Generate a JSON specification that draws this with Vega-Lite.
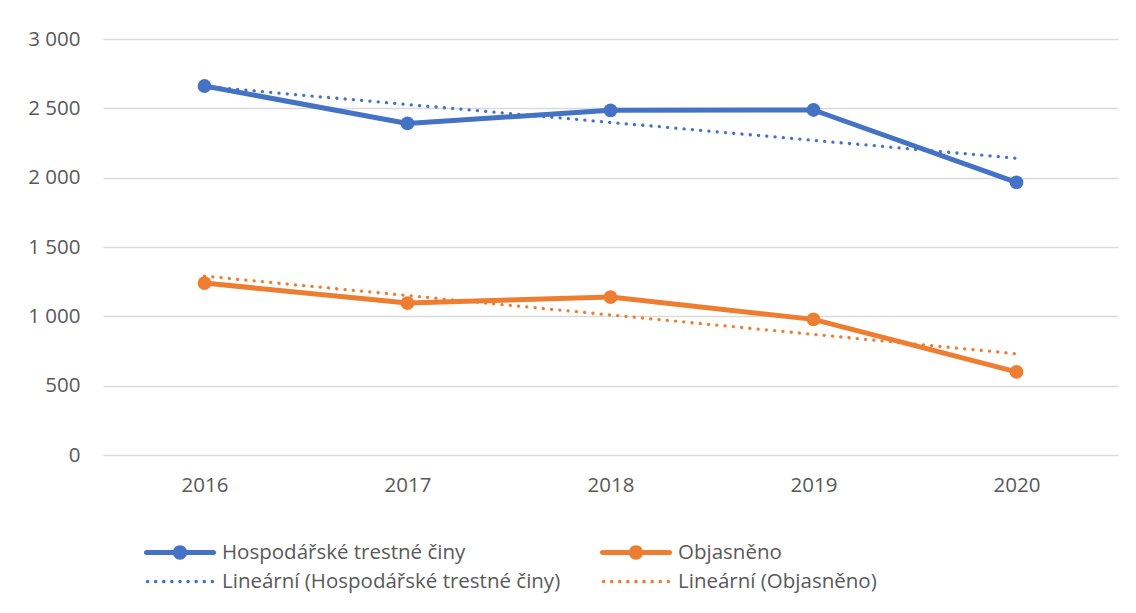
{
  "$schema": "https://vega.github.io/schema/vega-lite/v6.json",
  "width": 1015,
  "height": 416,
  "autosize": {"type": "none"},
  "padding": {"left": 103, "top": 39, "right": 18, "bottom": 158},
  "background": "white",
  "config": {"view": {"stroke": null}, "font": "Open Sans"},
  "data": {
    "values": [
      {"year": "2016", "value": 2661, "series": "Hospodářské trestné činy"},
      {"year": "2017", "value": 2391, "series": "Hospodářské trestné činy"},
      {"year": "2018", "value": 2486, "series": "Hospodářské trestné činy"},
      {"year": "2019", "value": 2488, "series": "Hospodářské trestné činy"},
      {"year": "2020", "value": 1966, "series": "Hospodářské trestné činy"},
      {"year": "2016", "value": 1240, "series": "Objasněno"},
      {"year": "2017", "value": 1096, "series": "Objasněno"},
      {"year": "2018", "value": 1139, "series": "Objasněno"},
      {"year": "2019", "value": 978, "series": "Objasněno"},
      {"year": "2020", "value": 599, "series": "Objasněno"},
      {"year": "2016", "value": 2657, "series": "Lineární (Hospodářské trestné činy)"},
      {"year": "2020", "value": 2140, "series": "Lineární (Hospodářské trestné činy)"},
      {"year": "2016", "value": 1290, "series": "Lineární (Objasněno)"},
      {"year": "2020", "value": 730, "series": "Lineární (Objasněno)"}
    ]
  },
  "encoding": {
    "x": {
      "field": "year",
      "type": "ordinal",
      "scale": {"type": "point", "padding": 0.5},
      "axis": {
        "title": null,
        "labelAngle": 0,
        "domain": false,
        "ticks": false,
        "labelPadding": 20,
        "labelFontSize": 20.5,
        "labelColor": "#595959",
        "labelFont": "Open Sans"
      }
    },
    "y": {
      "field": "value",
      "type": "quantitative",
      "scale": {"domain": [0, 3000]},
      "axis": {
        "title": null,
        "values": [0, 500, 1000, 1500, 2000, 2500, 3000],
        "domain": false,
        "ticks": false,
        "labelPadding": 23,
        "labelFontSize": 20.5,
        "labelColor": "#595959",
        "labelFont": "Open Sans",
        "gridColor": "#d9d9d9",
        "gridWidth": 1.3,
        "labelExpr": "replace(format(datum.value, ','), ',', ' ')"
      }
    },
    "color": {
      "field": "series",
      "type": "nominal",
      "scale": {
        "domain": ["Hospodářské trestné činy", "Lineární (Hospodářské trestné činy)", "Objasněno", "Lineární (Objasněno)"],
        "range": ["#4472C4", "#4472C4", "#ED7D31", "#ED7D31"]
      },
      "legend": {
        "orient": "none",
        "legendX": 41,
        "legendY": 499,
        "columns": 2,
        "title": null,
        "padding": 0,
        "symbolType": "M-0.93,-0.072 L0.93,-0.072 A0.072,0.072 0 0 1 0.93,0.072 L-0.93,0.072 A0.072,0.072 0 0 1 -0.93,-0.072 Z M0.2,0 A0.2,0.2 0 1 1 -0.2,0 A0.2,0.2 0 1 1 0.2,0 Z",
        "symbolSize": 5184,
        "clipHeight": 29,
        "rowPadding": 0,
        "columnPadding": 39,
        "labelOffset": 6,
        "labelFontSize": 20.5,
        "labelColor": "#595959",
        "labelFont": "Open Sans",
        "labelLimit": 0,
        "symbolLimit": 0,
        "encode": {
          "symbols": {
            "update": {
              "shape": {"signal": "indexof(datum.value, 'Lineární') === 0 ? 'M-0.85,0 A0.05,0.05 0 1 1 -0.95,0 A0.05,0.05 0 1 1 -0.85,0 Z M-0.625,0 A0.05,0.05 0 1 1 -0.725,0 A0.05,0.05 0 1 1 -0.625,0 Z M-0.4,0 A0.05,0.05 0 1 1 -0.5,0 A0.05,0.05 0 1 1 -0.4,0 Z M-0.175,0 A0.05,0.05 0 1 1 -0.275,0 A0.05,0.05 0 1 1 -0.175,0 Z M0.05,0 A0.05,0.05 0 1 1 -0.05,0 A0.05,0.05 0 1 1 0.05,0 Z M0.275,0 A0.05,0.05 0 1 1 0.175,0 A0.05,0.05 0 1 1 0.275,0 Z M0.5,0 A0.05,0.05 0 1 1 0.4,0 A0.05,0.05 0 1 1 0.5,0 Z M0.725,0 A0.05,0.05 0 1 1 0.625,0 A0.05,0.05 0 1 1 0.725,0 Z M0.95,0 A0.05,0.05 0 1 1 0.85,0 A0.05,0.05 0 1 1 0.95,0 Z' : 'M-0.93,-0.072 L0.93,-0.072 A0.072,0.072 0 0 1 0.93,0.072 L-0.93,0.072 A0.072,0.072 0 0 1 -0.93,-0.072 Z M0.2,0 A0.2,0.2 0 1 1 -0.2,0 A0.2,0.2 0 1 1 0.2,0 Z'"},
              "fill": {"signal": "scale('color', datum.value)"},
              "fillOpacity": {"value": 1},
              "stroke": {"value": "transparent"},
              "strokeWidth": {"value": 0},
              "opacity": {"value": 1}
            }
          }
        }
      }
    }
  },
  "layer": [
    {
      "transform": [{"filter": "indexof(datum.series, 'Lineární') < 0"}],
      "mark": {
        "type": "line",
        "strokeWidth": 5,
        "strokeJoin": "round",
        "strokeCap": "round",
        "point": {"filled": true, "size": 190, "opacity": 1}
      }
    },
    {
      "transform": [{"filter": "indexof(datum.series, 'Lineární') === 0"}],
      "mark": {
        "type": "line",
        "strokeWidth": 3.3,
        "strokeDash": [0.1, 8.2],
        "strokeCap": "round"
      }
    }
  ]
}
